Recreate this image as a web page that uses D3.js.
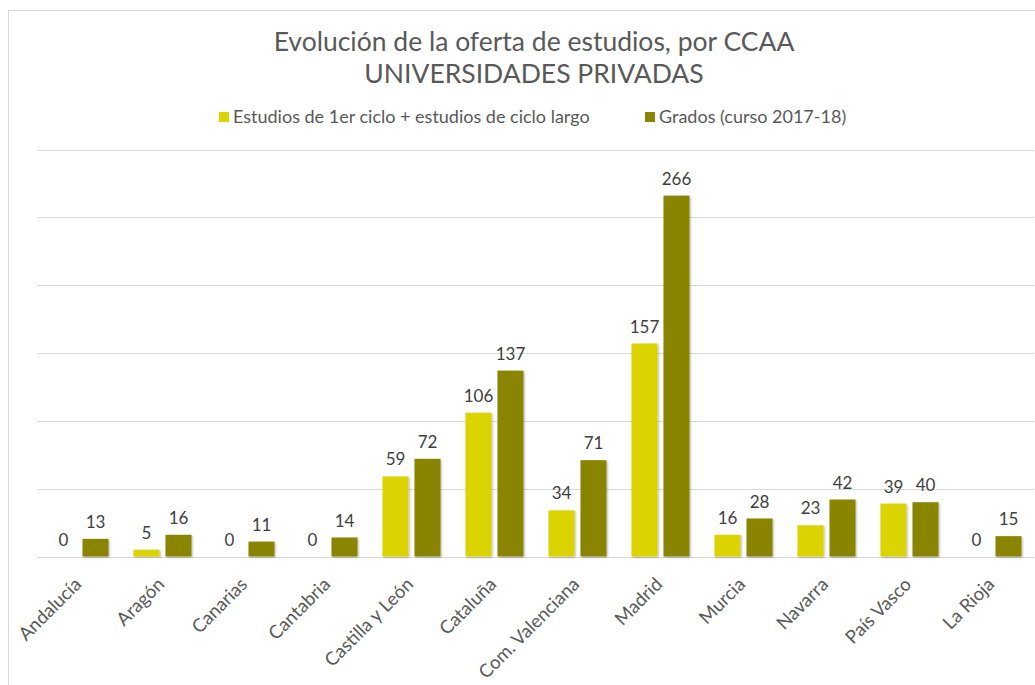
<!DOCTYPE html>
<html>
<head>
<meta charset="utf-8">
<script src="https://d3js.org/d3.v7.min.js"></script>
<style>
  body { margin: 0; background: #fff; }
  text { font-family: Lato, "Open Sans", sans-serif; }
</style>
</head>
<body>
<div id="chart"></div>
<script>
// data
var regions = ["Andalucía", "Aragón", "Canarias", "Cantabria", "Castilla y León", "Cataluña",
  "Com. Valenciana", "Madrid", "Murcia", "Navarra", "País Vasco", "La Rioja"];
var primerCiclo = [0, 5, 0, 0, 59, 106, 34, 157, 16, 23, 39, 0];
var grados = [13, 16, 11, 14, 72, 137, 71, 266, 28, 42, 40, 15];
var seriesNames = ["Estudios de 1er ciclo + estudios de ciclo largo", "Grados (curso 2017-18)"];
var seriesColors = ["#dcd400", "#8a8500"];
var gridTicks = [0, 50, 100, 150, 200, 250, 300];

var W = 1035, H = 685;
var margin = {top: 149.5, left: 38, right: 1, bottom: 128.5};

var svg = d3.select("#chart").append("svg")
  .attr("width", W).attr("height", H);

// soft shadow like the spreadsheet bars
var defs = svg.append("defs");
var f = defs.append("filter").attr("id", "shadow").attr("x", "-20%").attr("y", "-20%")
  .attr("width", "140%").attr("height", "140%");
f.append("feDropShadow").attr("dx", 1).attr("dy", 1).attr("stdDeviation", 1)
  .attr("flood-color", "#000").attr("flood-opacity", 0.3);

// chart border
svg.append("rect")
  .attr("x", 8.5).attr("y", 10.5).attr("width", W + 20).attr("height", H + 20)
  .attr("fill", "#fff").attr("stroke", "#d9d9d9").attr("stroke-width", 1);

var plotW = W - margin.left - margin.right;
var plotH = H - margin.top - margin.bottom;

var x = d3.scaleBand().domain(regions).range([margin.left, margin.left + plotW]);
var y = d3.scaleLinear().domain([0, 300]).range([margin.top + plotH, margin.top]);

// gridlines
svg.append("g").selectAll("line").data(gridTicks).join("line")
  .attr("x1", margin.left).attr("x2", margin.left + plotW)
  .attr("y1", function(d) { return Math.round(y(d)) + 0.5; })
  .attr("y2", function(d) { return Math.round(y(d)) + 0.5; })
  .attr("stroke", "#d9d9d9").attr("stroke-width", 1);

var barW = 26, gap = 6;
var groups = svg.append("g").selectAll("g").data(regions).join("g")
  .attr("transform", function(d) { return "translate(" + (x(d) + x.bandwidth() / 2) + ",0)"; });

[primerCiclo, grados].forEach(function(vals, s) {
  var off = s === 0 ? -gap / 2 - barW : gap / 2;
  groups.append("rect")
    .attr("x", off)
    .attr("y", function(d, i) { return y(vals[i]); })
    .attr("width", barW)
    .attr("height", function(d, i) { return y(0) - y(vals[i]); })
    .attr("fill", seriesColors[s])
    .attr("filter", "url(#shadow)")
    .style("display", function(d, i) { return vals[i] === 0 ? "none" : null; });
  groups.append("text")
    .attr("x", off + barW / 2)
    .attr("y", function(d, i) { return y(vals[i]) - 11; })
    .attr("text-anchor", "middle")
    .attr("font-size", 17)
    .attr("fill", "#404040")
    .text(function(d, i) { return vals[i]; });
});

// x axis labels, rotated
svg.append("g").selectAll("text").data(regions).join("text")
  .attr("transform", function(d) {
    return "translate(" + (x(d) + x.bandwidth() / 2 + 3) + "," + (y(0) + 29) + ") rotate(-45)";
  })
  .attr("text-anchor", "end")
  .attr("font-size", 18.5)
  .attr("fill", "#595959")
  .text(function(d) { return d; });

// title
var title = svg.append("text").attr("text-anchor", "middle").attr("fill", "#595959").attr("font-size", 26.5);
title.append("tspan").attr("x", 534).attr("y", 51).text("Evolución de la oferta de estudios, por CCAA");
title.append("tspan").attr("x", 534).attr("y", 83).text("UNIVERSIDADES PRIVADAS");

// legend
var legendX = [219, 645];
var leg = svg.append("g").selectAll("g").data(seriesNames).join("g")
  .attr("transform", function(d, i) { return "translate(" + legendX[i] + ",112)"; });
leg.append("rect").attr("width", 10).attr("height", 10)
  .attr("fill", function(d, i) { return seriesColors[i]; });
leg.append("text").attr("x", 14).attr("y", 11).attr("font-size", 18).attr("fill", "#595959")
  .text(function(d) { return d; });
</script>
</body>
</html>
